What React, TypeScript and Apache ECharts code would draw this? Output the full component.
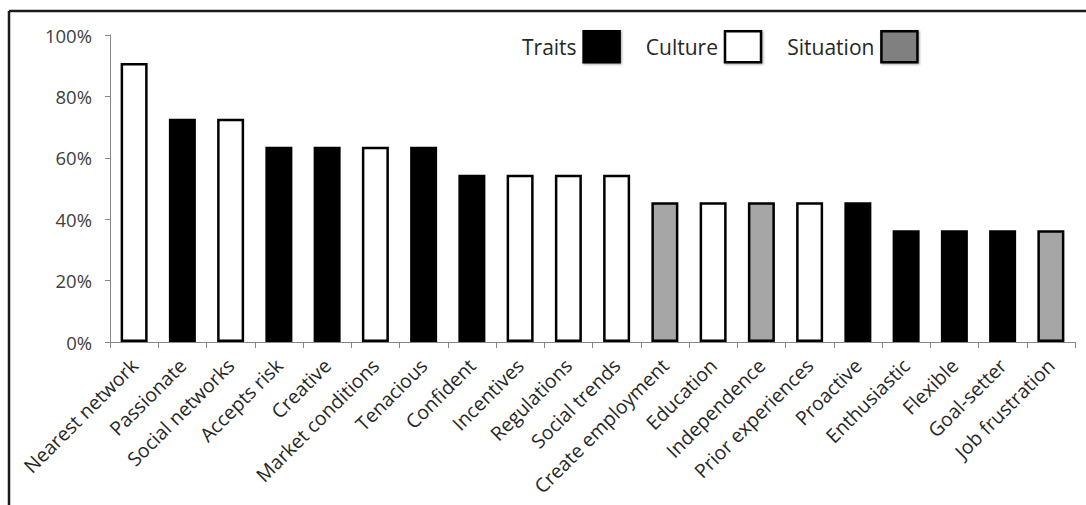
import React, { useEffect, useRef } from "react";
import * as echarts from "echarts";

const categories = [
  "Nearest network", "Passionate", "Social networks", "Accepts risk", "Creative",
  "Market conditions", "Tenacious", "Confident", "Incentives", "Regulations",
  "Social trends", "Create employment", "Education", "Independence", "Prior experiences",
  "Proactive", "Enthusiastic", "Flexible", "Goal-setter", "Job frustration",
];
const values = [
  90.9, 72.7, 72.7, 63.6, 63.6, 63.6, 63.6, 54.5, 54.5, 54.5,
  54.5, 45.5, 45.5, 45.5, 45.5, 45.5, 36.4, 36.4, 36.4, 36.4,
];
const types = [
  "Culture", "Traits", "Culture", "Traits", "Traits", "Culture", "Traits", "Traits", "Culture", "Culture",
  "Culture", "Situation", "Culture", "Situation", "Culture", "Traits", "Traits", "Traits", "Traits", "Situation",
];
const groups = ["Traits", "Culture", "Situation"];
const groupColors: Record<string, string> = { Traits: "#000000", Culture: "#ffffff", Situation: "#a6a6a6" };
const legendColors: Record<string, string> = { Traits: "#000000", Culture: "#ffffff", Situation: "#808080" };
const yTicks = [0, 20, 40, 60, 80, 100];

export default function App() {
  const ref = useRef<HTMLDivElement>(null);
  useEffect(() => {
    if (!ref.current) return;
    const chart = echarts.init(ref.current, null, { renderer: "svg" });
    const font = "'Open Sans', sans-serif";
    chart.setOption({
      animation: false,
      backgroundColor: "#ffffff",
      textStyle: { fontFamily: font },
      grid: { left: 110, right: 11, top: 35, bottom: 163, containLabel: false },
      legend: {
        left: 517,
        top: 25,
        align: "right",
        itemWidth: 36,
        itemHeight: 31,
        itemGap: 25,
        textStyle: { fontFamily: font, fontSize: 21, color: "#262626", padding: [0, 2, 0, 0] },
        data: groups.map((g) => ({
          name: g,
          icon: "rect",
          itemStyle: {
            color: legendColors[g],
            borderColor: "#000",
            borderWidth: 2.5,
            shadowColor: "rgba(0,0,0,0.35)",
            shadowBlur: 2,
            shadowOffsetX: 1,
            shadowOffsetY: 1,
          },
        })),
      },
      xAxis: {
        type: "category",
        data: categories,
        axisLine: { lineStyle: { color: "#868686", width: 1 } },
        axisTick: { show: true, length: 6, alignWithLabel: false, lineStyle: { color: "#868686" } },
        axisLabel: {
          rotate: 45,
          interval: 0,
          margin: 20,
          fontSize: 19.5,
          color: "#262626",
          fontFamily: font,
        },
      },
      yAxis: {
        type: "value",
        min: 0,
        max: 100,
        interval: 20,
        axisLine: { show: true, lineStyle: { color: "#868686", width: 1 } },
        axisTick: { show: true, length: 5, lineStyle: { color: "#868686" } },
        splitLine: { show: false },
        axisLabel: {
          margin: 18,
          fontSize: 18.5,
          color: "#404040",
          fontFamily: font,
          formatter: (v: number) => (yTicks.includes(v) ? v + "%" : ""),
        },
      },
      series: groups.map((g) => ({
        name: g,
        type: "bar",
        stack: "all",
        barWidth: 27,
        itemStyle: { color: groupColors[g], borderColor: "#000000", borderWidth: 2.5 },
        data: values.map((v, i) => (types[i] === g ? v : null)),
      })),
      graphic: [
        { type: "line", shape: { x1: 9, y1: 11, x2: 1086, y2: 11 }, style: { stroke: "#1a1a1a", lineWidth: 2.5 } },
        { type: "line", shape: { x1: 9, y1: 11, x2: 9, y2: 505 }, style: { stroke: "#1a1a1a", lineWidth: 2.5 } },
      ],
    });
    return () => chart.dispose();
  }, []);
  return (
    <div
      ref={ref}
      style={{ position: "absolute", left: 0, top: 0, width: 1086, height: 505 }}
    />
  );
}
